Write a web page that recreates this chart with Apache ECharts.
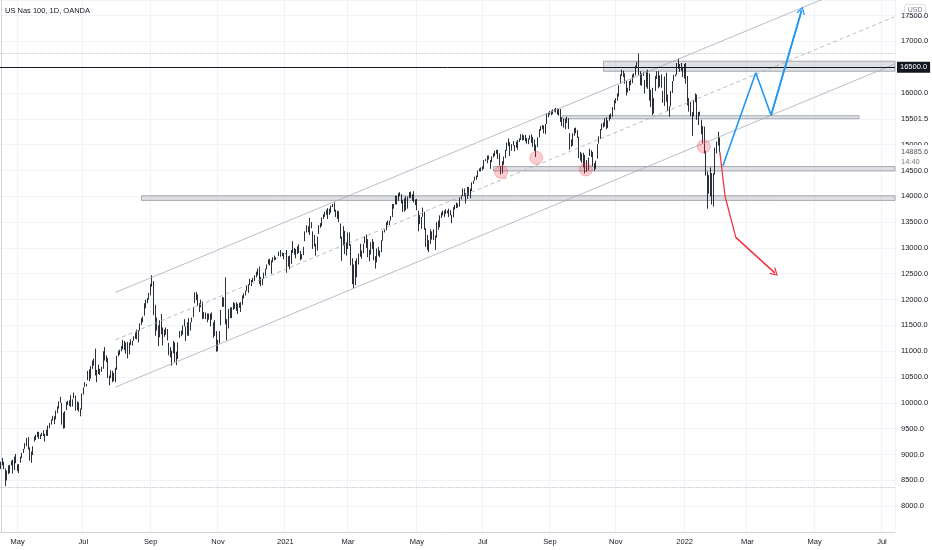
<!DOCTYPE html>
<html>
<head>
<meta charset="utf-8">
<script src="https://cdn.jsdelivr.net/npm/echarts@6/dist/echarts.min.js"></script>
<style>
  html, body { margin: 0; padding: 0; background: #fff; }
  #chart { width: 932px; height: 550px; }
</style>
</head>
<body>
<div id="chart"></div>
<script>
// 日线，从 2020-04-16 开始按工作日排列（含节假日空档日）
const firstDay = '2020-04-16'
const barCount = 585
const tickLabels = ['May', 'Jul', 'Sep', 'Nov', '2021', 'Mar', 'May', 'Jul', 'Sep', 'Nov', '2022', 'Mar', 'May', 'Jul']

// [open, high, low, close]
const ohlc2020 = [
  // Apr
  [8760,8860,8720,8832],[8900,8935,8790,8832],[8800,8860,8715,8726],[8700,8730,8390,8470],[8520,8690,8500,8656],
  [8660,8790,8620,8660],[8680,8800,8640,8786],[8830,8880,8790,8853],[8880,8900,8630,8637],[8720,8960,8700,8941],
  [9000,9010,8830,8890],
  // May
  [8800,8810,8680,8719],[8690,8815,8640,8810],[8860,8960,8840,8919],[8950,9030,8930,8995],[9050,9110,9030,9092],
  [9140,9220,9110,9214],[9180,9320,9160,9305],[9320,9340,9095,9102],[9110,9140,8880,8967],[8930,9060,8840,9053],
  [9000,9160,8990,9152],[9260,9350,9250,9330],[9330,9380,9280,9288],[9350,9440,9340,9428],[9420,9440,9300,9333],
  [9340,9390,9300,9375],[9380,9420,9360,9400],[9450,9470,9360,9368],[9380,9400,9250,9393],[9420,9480,9360,9368],
  [9390,9560,9360,9555],
  // Jun
  [9540,9610,9510,9598],[9610,9680,9580,9675],[9700,9750,9660,9732],[9720,9740,9590,9617],[9700,9850,9680,9825],
  [9820,9930,9800,9925],[9910,10030,9890,10000],[10020,10120,10000,10094],[9980,10000,9580,9589],[9750,9810,9500,9681],
  [9560,9840,9510,9806],[9970,10020,9860,9957],[9980,10040,9960,10017],[10000,10050,9940,10027],[10080,10150,9920,9946],
  [9960,10070,9930,10056],[10120,10200,10090,10131],[10110,10140,9850,9909],[9900,10030,9860,10017],[10000,10010,9830,9849],
  [9850,9890,9740,9874],[9880,10180,9870,10156],
  // Jul
  [10170,10300,10160,10279],[10340,10400,10310,10341],[10340,10370,10320,10350],[10450,10620,10440,10604],[10600,10650,10420,10434],
  [10480,10710,10470,10705],[10730,10820,10660,10800],[10780,10860,10720,10852],[10900,11050,10530,10544],[10520,10640,10400,10623],
  [10700,10740,10560,10685],[10620,10660,10540,10617],[10640,10700,10600,10656],[10680,11000,10660,10991],[11050,11080,10820,10863],
  [10870,10920,10790,10886],[10850,10870,10480,10521],[10400,10530,10340,10461],[10500,10630,10480,10617],[10600,10620,10400,10402],
  [10430,10580,10420,10536],[10450,10680,10400,10642],[10780,10910,10640,10905],
  // Aug
  [10930,11010,10900,10989],[10960,11030,10930,11016],[11050,11100,11000,11080],[11070,11220,11040,11207],[11180,11200,11020,11139],
  [11160,11170,10950,11080],[11120,11180,10860,10879],[10950,11170,10940,11145],[11150,11230,11120,11172],[11180,11200,11110,11164],
  [11220,11290,11200,11274],[11290,11360,11240,11355],[11380,11420,11230,11248],[11200,11410,11170,11396],[11430,11540,11400,11505],
  [11580,11640,11510,11627],[11630,11670,11560,11666],[11700,11930,11690,11917],[11960,12000,11830,11944],[11970,12030,11930,12011],
  [12020,12130,12000,12110],
  // Sep
  [12130,12300,12080,12292],[12320,12470,12250,12420],[12350,12360,11700,11796],[11800,11900,11300,11623],[11600,11650,11400,11450],
  [11400,11500,11100,11142],[11280,11600,11270,11577],[11620,11720,11330,11366],[11400,11460,11110,11222],[11350,11420,11280,11299],
  [11380,11460,11320,11386],[11400,11430,11210,11223],[11050,11160,10920,11065],[11050,11080,10880,10938],[10820,11010,10720,10998],
  [11050,11200,10960,11178],[11150,11170,10790,10816],[10780,10990,10730,10870],[10890,11170,10850,11151],[11280,11390,11260,11377],
  [11370,11400,11290,11330],[11340,11500,11320,11418],
  // Oct
  [11500,11620,11480,11583],[11380,11480,11200,11279],[11320,11560,11300,11554],[11560,11640,11300,11332],[11420,11560,11400,11543],
  [11590,11650,11560,11616],[11680,11860,11660,11853],[11950,12140,11930,12088],[12100,12150,11990,12056],[12050,12100,11880,11940],
  [11780,11930,11760,11903],[11950,12000,11850,11863],[11900,11960,11620,11656],[11700,11760,11630,11665],[11660,11750,11620,11662],
  [11680,11730,11560,11706],[11720,11730,11610,11700],[11620,11730,11480,11590],[11640,11750,11610,11721],[11520,11560,11260,11272],
  [11350,11600,11300,11463],[11370,11390,10990,11052],
  // Nov
  [11100,11220,11000,11104],[11180,11390,11150,11342],[11550,11800,11500,11780],[11880,12050,11860,12021],[11990,12040,11860,12009],
  [12150,12430,11520,11558],[11560,11620,11210,11357],[11470,11820,11440,11795],[11780,11850,11640,11700],[11750,11850,11640,11830],
  [11880,11950,11800,11926],[11880,11930,11820,11867],[11900,11950,11780,11790],[11770,11920,11720,11904],[11900,11940,11840,11855],
  [11900,11950,11760,11880],[11960,12080,11900,12036],[12070,12120,12020,12094],[12100,12170,12080,12160],[12180,12270,12160,12258],
  [12260,12300,12130,12268],
  // Dec
  [12310,12400,12280,12355],[12340,12380,12260,12350],[12360,12420,12340,12377],[12390,12470,12360,12465],[12450,12540,12430,12520],
  [12500,12600,12470,12582],[12600,12640,12300,12340],[12320,12440,12260,12420],[12380,12400,12280,12376],[12440,12520,12400,12440],
  [12480,12600,12460,12595],[12620,12680,12590,12658],[12690,12780,12680,12764],[12760,12790,12660,12756],[12620,12760,12500,12742],
  [12750,12820,12720,12807],[12800,12850,12760,12771],[12790,12820,12770,12805],[12805,12810,12800,12805],[12850,12930,12840,12899],
  [12920,12960,12830,12850],[12870,12910,12840,12870],[12860,12900,12780,12888]
]

const ohlc2021 = [
  // Jan
  [12888,12895,12880,12888],[12900,12960,12520,12694],[12680,12840,12640,12802],[12600,12850,12590,12623],[12700,12960,12690,12940],
  [12990,13130,12900,13105],[12950,13000,12870,12902],[12920,12980,12800,12880],[12900,13030,12880,12994],[13010,13070,12900,12910],
  [12900,12940,12760,12804],[12830,12880,12780,12850],[12900,13020,12860,12997],[13150,13320,13130,13297],[13320,13440,13300,13403],
  [13370,13420,13300,13367],[13440,13580,13250,13436],[13480,13500,13380,13404],[13300,13320,12980,13020],[13080,13250,13030,13130],
  [13040,13080,12850,12925],
  // Feb
  [12970,13220,12950,13203],[13290,13440,13270,13403],[13440,13480,13390,13406],[13450,13590,13420,13578],[13610,13650,13560,13611],
  [13650,13700,13600,13688],[13660,13740,13640,13696],[13750,13770,13560,13648],[13700,13760,13640,13733],[13700,13820,13680,13807],
  [13810,13850,13790,13830],[13850,13880,13700,13792],[13700,13740,13600,13713],[13700,13720,13560,13615],[13680,13710,13500,13535],
  [13430,13470,13180,13204],[13100,13220,12750,13180],[13190,13420,13050,13404],[13300,13330,12880,12911],[12950,13110,12850,12909],
  // Mar
  [13000,13300,12980,13289],[13280,13300,13040,13059],[13040,13070,12660,12677],[12670,12800,12300,12464],[12480,12680,12220,12668],
  [12700,12750,12280,12295],[12450,12800,12430,12771],[12860,12890,12680,12714],[12850,13080,12830,13054],[12900,12950,12790,12939],
  [12960,13080,12900,13075],[13120,13230,13090,13171],[13130,13260,13000,13228],[13150,13170,12820,12834],[12800,12960,12740,12905],
  [12900,13110,12870,13075],[13080,13170,12980,13046],[13080,13120,12760,12781],[12740,12840,12600,12745],[12780,12990,12720,12977],
  [12950,13020,12850,12945],[12920,12950,12820,12893],[12930,13150,12920,13091],
  // Apr
  [13150,13330,13140,13311],[13320,13360,13300,13340],[13360,13500,13340,13480],[13490,13530,13440,13470],[13470,13530,13440,13488],
  [13560,13620,13530,13608],[13620,13850,13600,13845],[13800,13850,13760,13817],[13860,14010,13840,13996],[14000,14010,13840,13857],
  [13920,14060,13910,14042],[14060,14080,14000,14041],[14020,14040,13860,13913],[13900,13930,13700,13786],[13750,13960,13700,13951],
  [13950,14000,13730,13778],[13780,13990,13760,13957],[13990,14080,13960,14070],[14080,14090,13970,14010],[14020,14040,13910,13925],
  [14060,14100,13880,13990],[13900,13940,13830,13860],
  // May
  [13900,13950,13730,13775],[13700,13720,13320,13531],[13600,13640,13460,13486],[13470,13600,13370,13581],[13620,13780,13600,13720],
  [13680,13700,13350,13359],[13150,13380,13020,13327],[13210,13250,12960,12972],[13020,13150,12920,13039],[13100,13360,13080,13340],
  [13300,13320,13160,13245],[13280,13360,13150,13169],[13000,13240,12960,13227],[13220,13500,13200,13479],[13490,13530,13350,13373],
  [13420,13630,13400,13611],[13640,13690,13580,13637],[13650,13720,13630,13696],[13700,13720,13600,13660],[13700,13750,13660,13686],
  [13690,13720,13670,13700],
  // Jun
  [13720,13760,13600,13662],[13680,13730,13630,13695],[13620,13640,13480,13564],[13600,13790,13590,13773],[13770,13830,13740,13815],
  [13830,13880,13770,13816],[13830,13860,13780,13808],[13830,13980,13800,13960],[13970,14020,13940,14004],[14020,14150,14000,14140],
  [14140,14150,14000,14020],[14030,14060,13860,13985],[14000,14180,13950,14160],[14140,14180,14010,14030],[14000,14150,13960,14141],
  [14130,14270,14100,14253],[14260,14300,14240,14272],[14310,14380,14300,14370],[14380,14400,14320,14361],[14380,14500,14370,14492],
  [14500,14540,14480,14528],[14530,14560,14480,14554],
  // Jul
  [14560,14580,14500,14522],[14540,14700,14530,14687],[14690,14720,14680,14700],[14710,14790,14640,14743],[14760,14790,14710,14765],
  [14650,14700,14530,14665],[14680,14770,14660,14754],[14770,14830,14750,14815],[14820,14880,14780,14838],[14860,14900,14820,14872],
  [14880,14900,14720,14760],[14790,14830,14600,14612],[14560,14580,14420,14460],[14470,14680,14440,14635],[14650,14770,14610,14756],
  [14760,14900,14740,14881],[14890,15040,14880,15032],[15020,15120,14970,15039],[15040,15050,14780,14884],[14930,15010,14880,14998],
  [15020,15070,14980,15027],[14900,14990,14870,14959],
  // Aug
  [15000,15060,14940,14980],[14990,15090,14900,15085],[15080,15120,15050,15092],[15110,15200,15090,15194],[15180,15200,15080,15128],
  [15130,15180,15090,15166],[15170,15190,15060,15098],[15110,15130,15020,15062],[15070,15120,15010,15111],[15120,15180,15100,15170],
  [15150,15200,15030,15180],[15130,15150,14960,15050],[15040,15100,14880,14895],[14820,15000,14760,14960],[14980,15140,14950,15120],
  [15160,15300,15140,15280],[15300,15360,15270,15330],[15340,15380,15300,15354],[15350,15370,15220,15233],[15250,15400,15200,15376],
  [15420,15610,15400,15598],[15600,15620,15530,15582],
  // Sep
  [15600,15650,15580,15610],[15620,15660,15570,15620],[15620,15680,15590,15653],[15660,15690,15640,15670],[15670,15710,15620,15693],
  [15680,15700,15580,15658],[15650,15690,15560,15588],[15640,15690,15440,15455],[15500,15530,15360,15425],[15450,15500,15330,15365],
  [15370,15500,15300,15489],[15480,15540,15420,15526],[15500,15510,15300,15330],[15200,15220,14900,14985],[15030,15100,14960,14998],
  [15010,15220,14980,15150],[15190,15320,15170,15300],[15260,15330,15220,15316],[15250,15280,15130,15180],[15140,15150,14740,14756],
  [14800,14860,14690,14711],[14760,14830,14650,14689],
  // Oct
  [14700,14840,14560,14818],[14780,14800,14440,14472],[14480,14700,14470,14654],[14580,14750,14500,14730],[14800,14920,14780,14837],
  [14850,14890,14760,14780],[14790,14860,14580,14590],[14590,14640,14490,14547],[14560,14690,14530,14670],[14740,15010,14730,15000],
  [15030,15160,15020,15147],[15120,15300,15110,15290],[15300,15410,15280,15400],[15410,15430,15330,15376],[15370,15510,15350,15500],
  [15510,15530,15300,15334],[15350,15470,15320,15460],[15480,15580,15460,15506],[15510,15600,15500,15530],[15560,15730,15540,15715],
  [15680,15860,15670,15850],
  // Nov
  [15860,15900,15800,15880],[15890,15990,15850,15985],[15990,16150,15930,16140],[16200,16360,16180,16345],[16380,16450,16330,16400],
  [16410,16430,16310,16360],[16360,16380,16180,16260],[16200,16230,15950,15980],[16030,16100,16010,16040],[16060,16230,16040,16220],
  [16240,16260,16150,16210],[16200,16360,16190,16340],[16350,16380,16300,16330],[16360,16530,16340,16510],[16520,16600,16480,16570],
  [16600,16770,16350,16370],[16380,16420,16150,16290],[16260,16380,16140,16360],[16360,16400,16330,16380],[16200,16250,15990,16030],
  [16130,16420,16110,16390],[16360,16450,16080,16140],
  // Dec
  [16250,16380,15850,15860],[15870,16060,15730,16010],[16050,16100,15570,15710],[15760,15900,15600,15860],[16050,16330,16040,16310],
  [16320,16420,16270,16390],[16400,16420,16090,16100],[16180,16340,16120,16330],[16340,16360,16100,16120],[16020,16040,15810,15950],
  [15950,16320,15750,16300],[16370,16390,15830,15880],[15850,15970,15650,15880],[15690,15740,15540,15710],[15770,16040,15740,16030],
  [16030,16230,16000,16220],[16240,16350,16230,16330],[16330,16360,16320,16340],[16360,16580,16350,16570],[16590,16670,16470,16490],
  [16490,16560,16410,16500],[16510,16580,16430,16460],[16470,16500,16310,16320]
]

const ohlc2022 = [
  // Jan
  [16340,16560,16280,16500],[16520,16580,16180,16280],[16270,16330,15760,15770],[15740,15900,15640,15770],[15780,15830,15550,15600],
  [15570,15630,15170,15620],[15600,15860,15550,15850],[15870,15990,15820,15910],[15920,15970,15480,15520],[15480,15630,15380,15620],
  [15610,15640,15560,15580],[15450,15480,15200,15230],[15260,15360,15030,15050],[15110,15350,14830,14850],[14820,14880,14400,14440],
  [14400,14480,13760,14470],[14380,14410,14050,14120],[14220,14560,14000,14120],[14330,14450,13840,13950],[13960,14450,13800,14440],
  [14450,14940,14420,14930],
  // Feb
  [14950,15060,14830,15020],[15050,15250,14980,15130],[15120,15140,14860,14886]
]

// 通道线 [bar, price]
const channelUpper = [[75, 12138], [584, 18389]]
const channelMiddle = [[75, 11222], [584, 17472]]
const channelLower = [[75, 10305], [584, 16556]]

// 支撑/阻力区域 [bar1, bar2, priceLow, priceHigh]
const zones = [
  [394, 585, 16420, 16615],
  [367, 561, 15501.5, 15560],
  [322, 585, 14490, 14575],
  [92, 585, 13920, 14010]
]

// 标记圆圈 [bar, price]
const touchPoints = [[327, 14470], [350, 14745], [382.5, 14520], [459.5, 14965]]

// 预期路径 [bar, price]
const bullPath = [[472, 14590], [493.5, 16390], [503.5, 15570], [523.5, 17600]]
const bearPath = [[470, 14860], [473.5, 13990], [480.5, 13200], [506, 12515]]

// 水平价位
const levelLine = 16500
const highLine = 16768
const lowLine = 8368
const zoneLabelPrice = 15501.5
const lastPrice = 14885.6
const countdown = '14:40'

// 生成工作日类目
const days = []
{
  const d = new Date(firstDay + 'T00:00:00Z')
  while (days.length < barCount) {
    const wd = d.getUTCDay()
    if (wd !== 0 && wd !== 6) days.push(d.toISOString().slice(0, 10))
    d.setUTCDate(d.getUTCDate() + 1)
  }
}
const labelAt = {}
let tickNo = 0
days.forEach((day, i) => {
  if (i === 0) return
  const m = +day.slice(5, 7)
  const pm = +days[i - 1].slice(5, 7)
  if (m !== pm && m % 2 === 1 && tickNo < tickLabels.length) labelAt[i] = tickLabels[tickNo++]
})
const showTick = (i) => labelAt[i] !== undefined

const candles = [...ohlc2020, ...ohlc2021, ...ohlc2022].map((r) => [r[0], r[3], r[2], r[1]])

const font = 'Liberation Sans, Arial, sans-serif'
const gridColor = '#f0f3fa'
const chevron = 'path://M0,10 L5,0 L10,10 L8.6,10.6 L5,2.8 L1.4,10.6 Z'
// 被自定义标签替代的刻度
const hiddenTicks = [7500, levelLine, 15500]

const chart = echarts.init(document.getElementById('chart'))

const option = {
  animation: false,
  backgroundColor: '#ffffff',
  textStyle: { fontFamily: font },
  title: {
    text: 'US Nas 100, 1D, OANDA',
    left: 5,
    top: 7,
    padding: 0,
    textStyle: { fontSize: 7.5, fontWeight: 'normal', color: '#131722', fontFamily: font }
  },
  grid: { left: 0, right: 37, top: 0, height: 532 },
  xAxis: [
    {
      type: 'category',
      data: days,
      boundaryGap: true,
      axisLine: { lineStyle: { color: '#d1d4dc' } },
      axisTick: { show: false },
      axisLabel: {
        interval: (i) => showTick(i),
        formatter: (v, i) => labelAt[i] || '',
        color: '#131722',
        fontSize: 7.5,
        margin: 6
      },
      splitLine: { show: true, interval: (i) => showTick(i), lineStyle: { color: gridColor } }
    },
    { type: 'value', min: -0.5, max: barCount - 0.5, show: false }
  ],
  yAxis: {
    type: 'value',
    position: 'right',
    min: 7500,
    max: 17800,
    interval: 500,
    axisLine: { show: true, lineStyle: { color: '#d1d4dc' } },
    axisTick: { show: false },
    axisLabel: {
      color: '#131722',
      fontSize: 7.5,
      margin: 6,
      formatter: (v) => (v % 500 !== 0 || hiddenTicks.includes(v) ? '' : v.toFixed(1))
    },
    splitLine: { lineStyle: { color: gridColor } }
  },
  series: [
    {
      type: 'candlestick',
      data: candles,
      barWidth: '80%',
      z: 2,
      itemStyle: {
        color: '#ffffff',
        color0: '#131722',
        borderColor: '#131722',
        borderColor0: '#131722',
        borderWidth: 0.9
      }
    },
    {
      // 区域 + 水平线
      type: 'line',
      xAxisIndex: 1,
      data: [],
      z: 3,
      markArea: {
        silent: true,
        itemStyle: { color: 'rgba(170,173,182,0.38)', borderColor: '#9598a1', borderWidth: 0.8 },
        data: zones.map((z) => [{ coord: [z[0], z[3]] }, { coord: [z[1], z[2]] }])
      },
      markLine: {
        silent: true,
        symbol: ['none', 'none'],
        data: [
          { yAxis: highLine, lineStyle: { color: '#b2b5be', type: 'dotted', width: 0.8 }, label: { show: false } },
          { yAxis: lowLine, lineStyle: { color: '#b2b5be', type: 'dotted', width: 0.8 }, label: { show: false } },
          {
            yAxis: levelLine,
            lineStyle: { color: '#131722', type: 'solid', width: 1 },
            label: {
              show: true, position: 'end', distance: 2, formatter: levelLine.toFixed(1),
              color: '#ffffff', backgroundColor: '#131722', padding: [2, 3, 1, 3], fontSize: 7.5
            }
          },
          {
            yAxis: zoneLabelPrice,
            lineStyle: { color: 'rgba(0,0,0,0)', width: 0 },
            label: { show: true, position: 'end', distance: 6, formatter: zoneLabelPrice.toFixed(1), color: '#131722', fontSize: 7.5 }
          },
          {
            yAxis: lastPrice,
            lineStyle: { color: 'rgba(0,0,0,0)', width: 0 },
            label: {
              show: true, position: 'end', distance: 3, offset: [0, 6],
              formatter: '{p|' + lastPrice.toFixed(1) + '}\n{t|' + countdown + '}',
              backgroundColor: '#ffffff', padding: [2, 3, 1, 3],
              rich: {
                p: { color: '#50535e', fontSize: 7.5, lineHeight: 10, fontFamily: font },
                t: { color: '#787b86', fontSize: 7.5, lineHeight: 10, fontFamily: font }
              }
            }
          }
        ]
      }
    },
    {
      type: 'line', xAxisIndex: 1, data: channelUpper, symbol: 'none', z: 4, clip: true,
      lineStyle: { color: '#a9acb5', width: 0.8 }
    },
    {
      type: 'line', xAxisIndex: 1, data: channelMiddle, symbol: 'none', z: 4, clip: true,
      lineStyle: { color: '#a9acb5', width: 0.8, type: [4, 3] }
    },
    {
      type: 'line', xAxisIndex: 1, data: channelLower, symbol: 'none', z: 4, clip: true,
      lineStyle: { color: '#a9acb5', width: 0.8 }
    },
    {
      type: 'scatter', xAxisIndex: 1, data: touchPoints, symbolSize: 13, z: 5,
      itemStyle: { color: 'rgba(242,54,69,0.3)', borderColor: 'rgba(242,54,69,0.5)', borderWidth: 0.8 }
    },
    {
      type: 'line', xAxisIndex: 1, data: bullPath, symbol: 'none', z: 6,
      lineStyle: { color: '#2196f3', width: 1.6 },
      markLine: {
        silent: true,
        symbol: ['none', chevron],
        symbolSize: [9, 8],
        lineStyle: { color: '#2196f3', width: 1.6, type: 'solid' },
        label: { show: false },
        data: [[{ coord: bullPath[2] }, { coord: bullPath[3] }]]
      }
    },
    {
      type: 'line', xAxisIndex: 1, data: bearPath, symbol: 'none', z: 6,
      lineStyle: { color: '#f23645', width: 1.3 },
      markLine: {
        silent: true,
        symbol: ['none', chevron],
        symbolSize: [9, 8],
        lineStyle: { color: '#f23645', width: 1.3, type: 'solid' },
        label: { show: false },
        data: [[{ coord: bearPath[2] }, { coord: bearPath[3] }]]
      }
    }
  ],
  graphic: [
    {
      type: 'group',
      right: 6,
      top: 4,
      z: 100,
      children: [
        { type: 'rect', shape: { x: 0, y: 0, width: 21, height: 12, r: 2 }, style: { fill: '#ffffff', stroke: '#d1d4dc', lineWidth: 0.8 } },
        { type: 'text', x: 10.5, y: 6, style: { text: 'USD', fill: '#787b86', fontSize: 7, fontFamily: font, align: 'center', verticalAlign: 'middle' } }
      ]
    }
  ]
}

chart.setOption(option)
window.addEventListener('resize', () => {
  chart.resize()
})
</script>
</body>
</html>
